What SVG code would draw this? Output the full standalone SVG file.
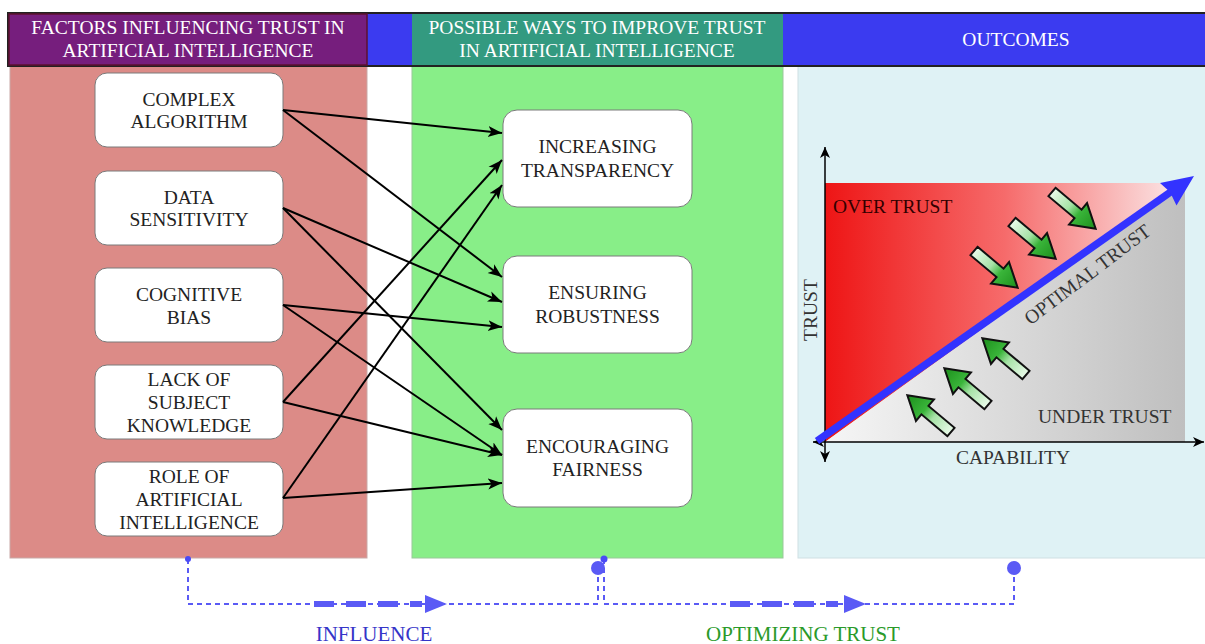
<svg xmlns="http://www.w3.org/2000/svg" width="1205" height="644" viewBox="0 0 1205 644">
<style>
.t{font-family:"Liberation Serif","Times New Roman",serif;font-size:19.5px;text-anchor:middle;fill:#222}
.h{font-family:"Liberation Serif","Times New Roman",serif;font-size:19.5px;text-anchor:middle;fill:#fff}
.box{fill:#fff;stroke:#7a7a7a;stroke-width:1}
.con{stroke:#000;stroke-width:2;fill:none;marker-end:url(#ah)}
.flow{stroke:#5a5af5;stroke-width:2;fill:none;stroke-dasharray:5 4}
.thick{stroke:#5a5af5;stroke-width:6;fill:none;stroke-dasharray:20 12}
.ga{stroke:#111;stroke-width:2;stroke-linejoin:miter}
</style>
<defs>
<marker id="ah" markerUnits="userSpaceOnUse" markerWidth="15" markerHeight="13" refX="14" refY="6.5" orient="auto">
<path d="M0,1 L14,6.5 L0,12 L3.5,6.5 Z" fill="#000"/>
</marker>
<marker id="ax" markerUnits="userSpaceOnUse" markerWidth="12" markerHeight="10" refX="11" refY="5" orient="auto-start-reverse">
<path d="M0,0 L11,5 L0,10 L3,5 Z" fill="#000"/>
</marker>
<linearGradient id="redg" gradientUnits="userSpaceOnUse" x1="825" y1="0" x2="1185" y2="0">
<stop offset="0" stop-color="#ee1515"/>
<stop offset="0.5" stop-color="#f66b6b"/>
<stop offset="1" stop-color="#fbecec"/>
</linearGradient>
<linearGradient id="grayg" gradientUnits="userSpaceOnUse" x1="825" y1="0" x2="1185" y2="0">
<stop offset="0" stop-color="#f6f6f6"/>
<stop offset="1" stop-color="#bfbfbf"/>
</linearGradient>
<linearGradient id="greeng" x1="0" y1="0" x2="1" y2="0">
<stop offset="0" stop-color="#eafbea"/>
<stop offset="0.4" stop-color="#a6e2a6"/>
<stop offset="0.6" stop-color="#3ab53a"/>
<stop offset="1" stop-color="#1c8f1c"/>
</linearGradient>
<path id="garrow" d="M0,-5.5 L34,-5.5 L34,-14 L57,0 L34,14 L34,5.5 L0,5.5 Z"/>
</defs>

<!-- columns -->
<g id="columns">
<rect x="10" y="66" width="357" height="492" fill="#dc8b87" stroke="#c9a9a7" stroke-width="1"/>
<rect x="412" y="66" width="371" height="492" fill="#88ee88" stroke="#9ac89a" stroke-width="1"/>
<rect x="798" y="66" width="420" height="492" fill="#dff2f5" stroke="#cfe0e3" stroke-width="1"/>
</g>

<!-- header band -->
<g id="header">
<rect x="8" y="13" width="1210" height="53" fill="#3b3bf0" stroke="#222" stroke-width="2"/>
<rect x="9" y="14" width="358" height="51" fill="#761e7d" stroke="#5e1030" stroke-width="1.5"/>
<rect x="412" y="14" width="371" height="51" fill="#339a80"/>
<text class="h" x="188" y="34">FACTORS INFLUENCING TRUST IN</text>
<text class="h" x="188" y="57">ARTIFICIAL INTELLIGENCE</text>
<text class="h" x="597" y="34">POSSIBLE WAYS TO IMPROVE TRUST</text>
<text class="h" x="597" y="57">IN ARTIFICIAL INTELLIGENCE</text>
<text class="h" x="1016" y="46">OUTCOMES</text>
</g>

<!-- factor nodes -->
<g id="complex-algorithm">
<rect class="box" x="95" y="73" width="188" height="74" rx="12"/>
<text class="t" x="189" y="106">COMPLEX</text>
<text class="t" x="189" y="128">ALGORITHM</text>
</g>
<g id="data-sensitivity">
<rect class="box" x="95" y="171" width="188" height="74" rx="12"/>
<text class="t" x="189" y="204">DATA</text>
<text class="t" x="189" y="226">SENSITIVITY</text>
</g>
<g id="cognitive-bias">
<rect class="box" x="95" y="268" width="188" height="74" rx="12"/>
<text class="t" x="189" y="301">COGNITIVE</text>
<text class="t" x="189" y="324">BIAS</text>
</g>
<g id="lack-of-subject-knowledge">
<rect class="box" x="95" y="365" width="188" height="74" rx="12"/>
<text class="t" x="189" y="386">LACK OF</text>
<text class="t" x="189" y="409">SUBJECT</text>
<text class="t" x="189" y="432">KNOWLEDGE</text>
</g>
<g id="role-of-ai">
<rect class="box" x="95" y="462" width="188" height="74" rx="12"/>
<text class="t" x="189" y="483">ROLE OF</text>
<text class="t" x="189" y="506">ARTIFICIAL</text>
<text class="t" x="189" y="529">INTELLIGENCE</text>
</g>

<!-- ways nodes -->
<g id="increasing-transparency">
<rect class="box" x="503" y="110" width="189" height="97" rx="14"/>
<text class="t" x="597.5" y="153">INCREASING</text>
<text class="t" x="597.5" y="177">TRANSPARENCY</text>
</g>
<g id="ensuring-robustness">
<rect class="box" x="503" y="256" width="189" height="97" rx="14"/>
<text class="t" x="597.5" y="299">ENSURING</text>
<text class="t" x="597.5" y="323">ROBUSTNESS</text>
</g>
<g id="encouraging-fairness">
<rect class="box" x="503" y="409" width="189" height="98" rx="14"/>
<text class="t" x="597.5" y="453">ENCOURAGING</text>
<text class="t" x="597.5" y="476">FAIRNESS</text>
</g>

<!-- connectors -->
<g id="connectors">
<line class="con" x1="283" y1="110" x2="502" y2="133"/>
<line class="con" x1="283" y1="110" x2="502" y2="277"/>
<line class="con" x1="283" y1="208" x2="502" y2="302"/>
<line class="con" x1="283" y1="208" x2="502" y2="430"/>
<line class="con" x1="283" y1="305" x2="502" y2="327"/>
<line class="con" x1="283" y1="305" x2="502" y2="455"/>
<line class="con" x1="283" y1="402" x2="502" y2="160"/>
<line class="con" x1="283" y1="402" x2="502" y2="455"/>
<line class="con" x1="283" y1="498" x2="502" y2="185"/>
<line class="con" x1="283" y1="498" x2="502" y2="483"/>
</g>

<!-- outcomes chart -->
<g id="outcomes-chart">
<polygon points="825,183 1185,183 825,442" fill="url(#redg)"/>
<polygon points="825,442 1185,183 1185,442" fill="url(#grayg)"/>
<line x1="825" y1="147" x2="825" y2="462" stroke="#000" stroke-width="1.5" marker-start="url(#ax)" marker-end="url(#ax)"/>
<line x1="813" y1="442" x2="1204" y2="442" stroke="#000" stroke-width="1.5" marker-start="url(#ax)" marker-end="url(#ax)"/>
<line x1="817" y1="441" x2="1172" y2="191" stroke="#3333ff" stroke-width="7.5"/>
<polygon points="1194,176 1176.5,205.5 1170,192 1160,183" fill="#3333ff"/>
<g fill="url(#greeng)" class="ga">
<use href="#garrow" transform="translate(1052,192) rotate(40)"/>
<use href="#garrow" transform="translate(1012,222) rotate(40)"/>
<use href="#garrow" transform="translate(974,251) rotate(40)"/>
<use href="#garrow" transform="translate(951,432) rotate(220)"/>
<use href="#garrow" transform="translate(988,405) rotate(220)"/>
<use href="#garrow" transform="translate(1026,375) rotate(220)"/>
</g>
<text class="t" x="833" y="213" style="text-anchor:start;fill:#300">OVER TRUST</text>
<text class="t" x="1038" y="423" style="text-anchor:start;fill:#333">UNDER TRUST</text>
<text class="t" transform="translate(1087,274) rotate(-37)" x="0" y="7" style="fill:#333">OPTIMAL TRUST</text>
<text class="t" transform="translate(817,310) rotate(-90)" x="0" y="0" style="fill:#333">TRUST</text>
<text class="t" x="1013" y="464" style="fill:#333">CAPABILITY</text>
</g>

<!-- bottom flow connectors -->
<g id="flow-connectors">
<path class="flow" d="M188,559 L188,604 L598,604 L598,568"/>
<line class="thick" x1="314" y1="604" x2="422" y2="604"/>
<polygon points="425,595 447,604 425,613" fill="#5a5af5"/>
<path class="flow" d="M604,559 L604,604 L1014,604 L1014,568"/>
<line class="thick" x1="730" y1="604" x2="838" y2="604"/>
<polygon points="844,595 866,604 844,613" fill="#5a5af5"/>
<circle cx="188" cy="559" r="3" fill="#4a4af5"/>
<circle cx="604" cy="559" r="3.5" fill="#4a4af5"/>
<circle cx="598" cy="568" r="7" fill="#5a5af5"/>
<circle cx="1014" cy="568" r="7" fill="#5a5af5"/>
<text x="374" y="641" style="font-family:'Liberation Serif','Times New Roman',serif;font-size:21px;text-anchor:middle;fill:#3535c8">INFLUENCE</text>
<text x="803" y="641" style="font-family:'Liberation Serif','Times New Roman',serif;font-size:21px;text-anchor:middle;fill:#2a9a2a">OPTIMIZING TRUST</text>
</g>
</svg>
